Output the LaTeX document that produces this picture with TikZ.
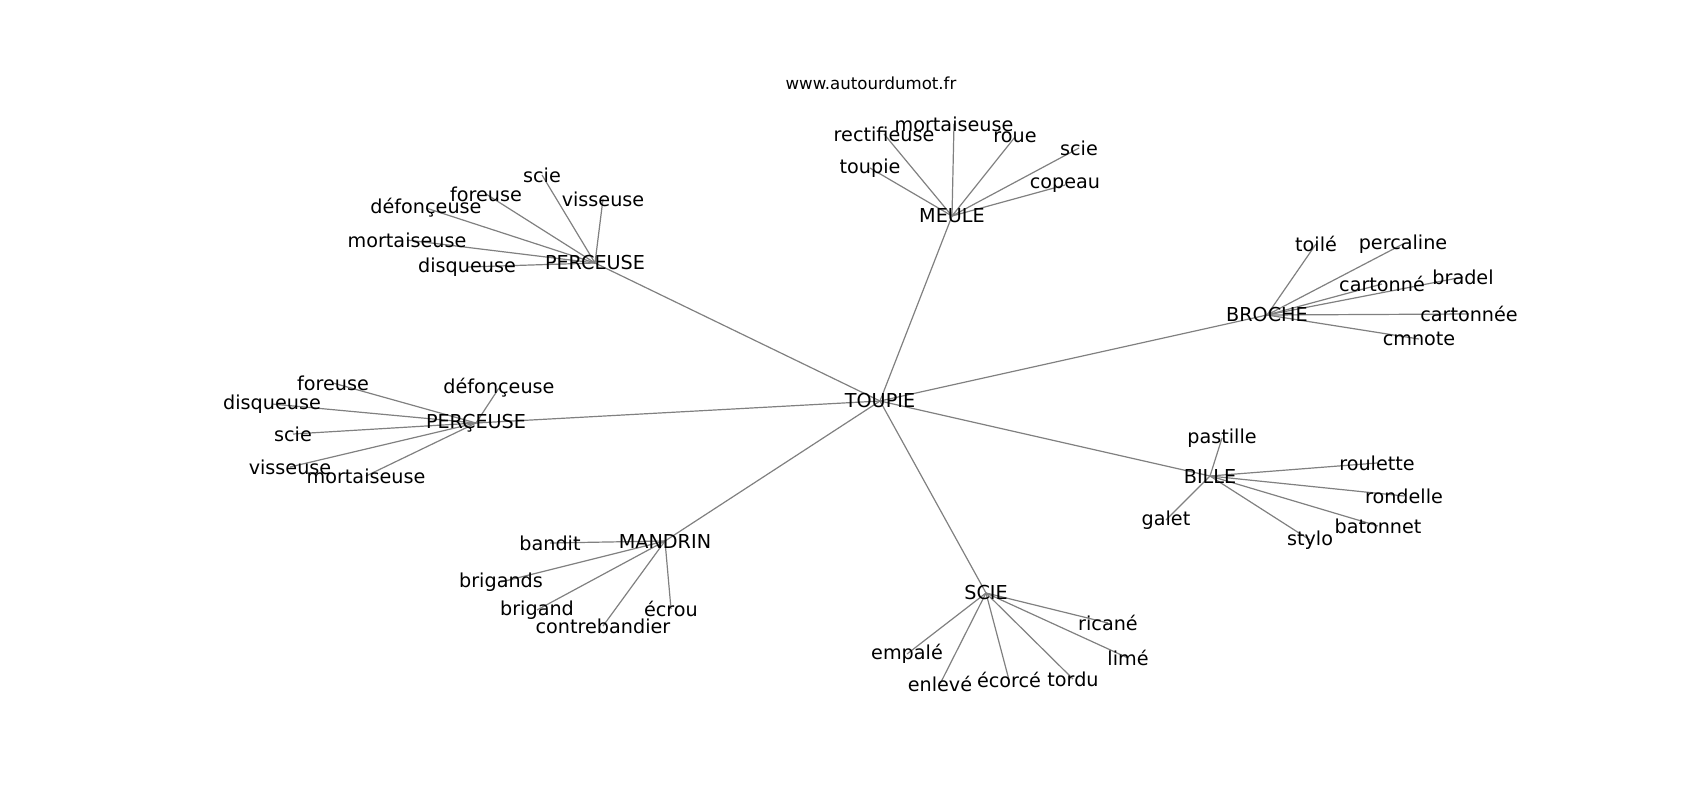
\documentclass[tikz,border=0pt]{standalone}
\usepackage{fontspec}
\setmainfont{DejaVu Sans}
\usetikzlibrary{backgrounds}
\begin{document}
\begin{tikzpicture}[x=1pt,y=-1pt,
  lbl/.style={font=\fontsize{19.2}{22}\selectfont, inner sep=0pt, text=black},
  ttl/.style={font=\fontsize{16.6}{20}\selectfont, inner sep=0pt, text=black},
  edge/.style={draw=gray, line width=1.2pt}]
\useasboundingbox (0,0) rectangle (1700,800);
\node[ttl] (title) at (871,83) {www.autourdumot.fr};
% center
\node[lbl] (toupie) at (880,401) {TOUPIE};
% PERCEUSE group
\node[lbl] (perc) at (595,263) {PERCEUSE};
\node[lbl] (perc-scie) at (542,175) {scie};
\node[lbl] (perc-for) at (486,194) {foreuse};
\node[lbl] (perc-vis) at (603,199) {visseuse};
\node[lbl] (perc-def) at (426,208) {défonçeuse};
\node[lbl] (perc-mor) at (407,240) {mortaiseuse};
\node[lbl] (perc-dis) at (467,267) {disqueuse};
% MEULE group
\node[lbl] (meule) at (952,216) {MEULE};
\node[lbl] (meule-mor) at (954,124) {mortaiseuse};
\node[lbl] (meule-rec) at (884,134) {rectifieuse};
\node[lbl] (meule-roue) at (1015,137) {roue};
\node[lbl] (meule-scie) at (1079,148) {scie};
\node[lbl] (meule-tou) at (870,168) {toupie};
\node[lbl] (meule-cop) at (1065,185) {copeau};
% BROCHE group
\node[lbl] (broche) at (1267,315) {BROCHE};
\node[lbl] (br-toi) at (1316,244) {toilé};
\node[lbl] (br-per) at (1403,244) {percaline};
\node[lbl] (br-car) at (1382,284) {cartonné};
\node[lbl] (br-bra) at (1463,277) {bradel};
\node[lbl] (br-cae) at (1469,314) {cartonnée};
\node[lbl] (br-cmn) at (1419,339) {cmnote};
% PERÇEUSE group
\node[lbl] (perc2) at (476,423) {PERÇEUSE};
\node[lbl] (p2-for) at (333,383) {foreuse};
\node[lbl] (p2-def) at (499,388) {défonçeuse};
\node[lbl] (p2-dis) at (272,404) {disqueuse};
\node[lbl] (p2-scie) at (293,434) {scie};
\node[lbl] (p2-vis) at (290,467) {visseuse};
\node[lbl] (p2-mor) at (366,476) {mortaiseuse};
% MANDRIN group
\node[lbl] (mandrin) at (665,541) {MANDRIN};
\node[lbl] (ma-ban) at (550,543) {bandit};
\node[lbl] (ma-brs) at (501,582) {brigands};
\node[lbl] (ma-bri) at (537,610) {brigand};
\node[lbl] (ma-con) at (603,626) {contrebandier};
\node[lbl] (ma-ecr) at (671,609) {écrou};
% SCIE group
\node[lbl] (scie) at (986,593) {SCIE};
\node[lbl] (sc-ric) at (1108,623) {ricané};
\node[lbl] (sc-emp) at (907,654) {empalé};
\node[lbl] (sc-lim) at (1128,658) {limé};
\node[lbl] (sc-enl) at (940,684) {enlevé};
\node[lbl] (sc-eco) at (1009,680) {écorcé};
\node[lbl] (sc-tor) at (1073,679) {tordu};
% BILLE group
\node[lbl] (bille) at (1210,476) {BILLE};
\node[lbl] (bi-pas) at (1222,438) {pastille};
\node[lbl] (bi-rou) at (1377,463) {roulette};
\node[lbl] (bi-ron) at (1404,496) {rondelle};
\node[lbl] (bi-gal) at (1166,520) {galet};
\node[lbl] (bi-bat) at (1378,526) {batonnet};
\node[lbl] (bi-sty) at (1310,540) {stylo};
\begin{pgfonlayer}{background}
\foreach \h in {perc,meule,broche,perc2,mandrin,scie,bille}
  \draw[edge] (toupie.center) -- (\h.center);
\foreach \l in {perc-scie,perc-for,perc-vis,perc-def,perc-mor,perc-dis}
  \draw[edge] (perc.center) -- (\l.center);
\foreach \l in {meule-mor,meule-rec,meule-roue,meule-scie,meule-tou,meule-cop}
  \draw[edge] (meule.center) -- (\l.center);
\foreach \l in {br-toi,br-per,br-car,br-bra,br-cae,br-cmn}
  \draw[edge] (broche.center) -- (\l.center);
\foreach \l in {p2-for,p2-def,p2-dis,p2-scie,p2-vis,p2-mor}
  \draw[edge] (perc2.center) -- (\l.center);
\foreach \l in {ma-ban,ma-brs,ma-bri,ma-con,ma-ecr}
  \draw[edge] (mandrin.center) -- (\l.center);
\foreach \l in {sc-ric,sc-emp,sc-lim,sc-enl,sc-eco,sc-tor}
  \draw[edge] (scie.center) -- (\l.center);
\foreach \l in {bi-pas,bi-rou,bi-ron,bi-gal,bi-bat,bi-sty}
  \draw[edge] (bille.center) -- (\l.center);
\end{pgfonlayer}
\end{tikzpicture}
\end{document}
